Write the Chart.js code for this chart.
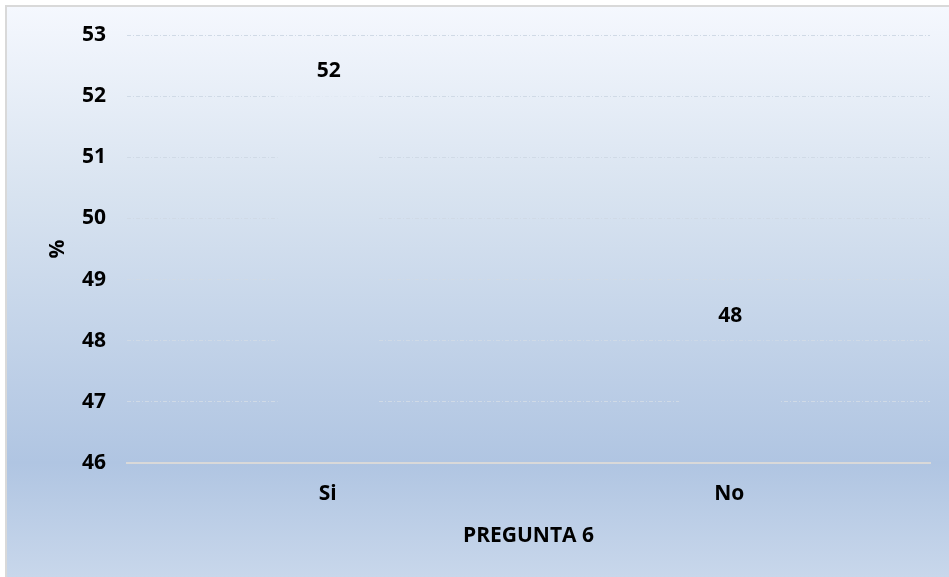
<!DOCTYPE html>
<html><head><meta charset="utf-8">
<script src="https://cdn.jsdelivr.net/npm/chart.js@4/dist/chart.umd.min.js"></script>
<style>html,body{margin:0;padding:0;background:#fff;}#wrap{width:949px;height:577px;position:relative;}</style>
</head><body><div id="wrap"><canvas id="c" width="949" height="577"></canvas></div>
<script>
const categories = ["Si", "No"];
const values = [52, 48];
const yTicks = [46, 47, 48, 49, 50, 51, 52, 53];
const xTitle = "PREGUNTA 6";
const yTitle = "%";

const FONT = "'Open Sans', sans-serif";
const FSIZE = 21;
function bgGradient(chart) {
  const ctx = chart.ctx;
  const g = ctx.createLinearGradient(0, 6, 0, 577);
  g.addColorStop(0, '#f5f8fe');
  g.addColorStop(0.33, '#d8e3f0');
  g.addColorStop(0.8, '#b0c5e2');
  g.addColorStop(1, '#c8d7eb');
  return g;
}
const bgPlugin = {
  id: 'bg',
  beforeDraw(chart) {
    const ctx = chart.ctx;
    ctx.save();
    ctx.fillStyle = bgGradient(chart);
    ctx.fillRect(7, 7, chart.width, chart.height);
    ctx.strokeStyle = '#d9d9d9';
    ctx.lineWidth = 2;
    ctx.strokeRect(6, 6, chart.width + 10, chart.height + 10);
    ctx.restore();
  }
};
const labelPlugin = {
  id: 'vlabels',
  afterDatasetsDraw(chart) {
    const ctx = chart.ctx;
    const meta = chart.getDatasetMeta(0);
    ctx.save();
    ctx.fillStyle = '#000';
    ctx.font = "bold " + FSIZE + "px " + FONT;
    ctx.textAlign = 'center';
    ctx.textBaseline = 'middle';
    meta.data.forEach((bar, i) => {
      ctx.fillText(String(values[i]), bar.x + 1, bar.y - 25);
    });
    ctx.restore();
  }
};
new Chart(document.getElementById('c'), {
  type: 'bar',
  data: {
    labels: categories,
    datasets: [{
      data: values,
      backgroundColor: (c) => bgGradient(c.chart),
      borderWidth: 0,
      categoryPercentage: 1,
      barPercentage: 0.25
    }]
  },
  options: {
    responsive: false,
    animation: false,
    events: [],
    layout: { padding: { top: 35, right: 19, left: 0, bottom: 0 } },
    plugins: { legend: { display: false }, tooltip: { enabled: false } },
    scales: {
      x: {
        grid: { display: false, drawTicks: false },
        border: { display: true, color: '#d9d9d9', width: 2, z: 1 },
        ticks: { color: '#000', font: { family: FONT, size: FSIZE, weight: 'bold' }, padding: 18 },
        title: { display: true, text: xTitle, color: '#000', font: { family: FONT, size: FSIZE, weight: 'bold' }, padding: { top: 0, bottom: 28 } },
        afterFit(s) { s.height = 114; }
      },
      y: {
        min: 46, max: 53,
        afterBuildTicks(s) { s.ticks = yTicks.map(v => ({ value: v })); },
        grid: { drawTicks: false, color: (c) => c.tick && c.tick.value === 46 ? '#d9d9d9' : '#d0dae6', lineWidth: (c) => c.tick && c.tick.value === 46 ? 2 : 1 },
        border: { display: false, dash: (c) => c.tick && c.tick.value === 46 ? [] : [4, 2, 1, 2] },
        ticks: { color: '#000', font: { family: FONT, size: FSIZE, weight: 'bold' }, padding: 21 },
        title: { display: true, text: yTitle, color: '#000', font: { family: FONT, size: FSIZE, weight: 'bold' }, padding: { top: 45, bottom: 0 } },
        afterFit(s) { s.width = 127; }
      }
    }
  },
  plugins: [bgPlugin, labelPlugin]
});
</script></body></html>
